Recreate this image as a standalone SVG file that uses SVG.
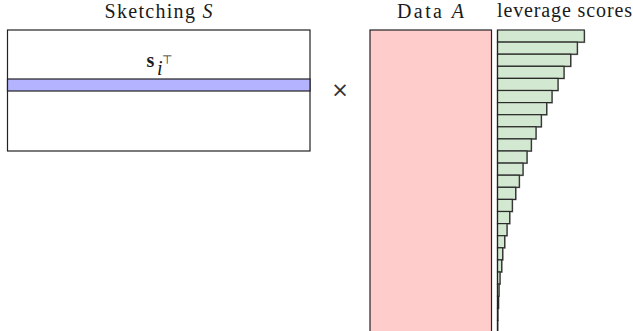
<svg xmlns="http://www.w3.org/2000/svg" width="633" height="331" viewBox="0 0 633 331">
<style>
  .t { font-family: 'Liberation Serif', 'DejaVu Serif', 'Times New Roman', serif; font-size: 20px; fill: #1a1a1a; }
  .it { font-style: italic; }
  .box { stroke: #222; stroke-width: 1.2; }
  .bar { fill: #d3e8d0; stroke: #2a2a2a; stroke-width: 1.2; }
  .sh { fill: #8a8a8a; opacity: 0.7; }
</style>
<rect width="633" height="331" fill="#ffffff"/>
<g id="sketching">
  <text class="t" font-family="Liberation Serif, serif" x="158.5" y="17.5" text-anchor="middle" textLength="108" lengthAdjust="spacing">Sketching <tspan class="it">S</tspan></text>
  <rect class="box" x="7.5" y="30" width="302.5" height="121" fill="#ffffff"/>
  <rect class="box" x="7.5" y="79" width="302.5" height="12" fill="#b3b3ff"/>
  <text class="t" font-family="Liberation Serif, serif" x="146.5" y="67" font-size="21" font-weight="bold">s</text>
  <text class="t it" font-family="Liberation Serif, serif" x="157" y="75" font-size="14">i</text>
  <text x="162" y="63.5" font-family="DejaVu Sans, sans-serif" font-size="12" fill="#1a1a1a">⊤</text>
</g>
<g id="times">
  <text x="340" y="97" text-anchor="middle" font-family="DejaVu Sans, sans-serif" font-size="21" fill="#333">×</text>
</g>
<g id="data">
  <text class="t" font-family="Liberation Serif, serif" x="430.5" y="17.5" text-anchor="middle" textLength="67" lengthAdjust="spacing">Data <tspan class="it">A</tspan></text>
  <rect class="box" x="370" y="30" width="121.5" height="310" fill="#ffcccc"/>
</g>
<g id="leverage">
  <text class="t" font-family="Liberation Serif, serif" x="497" y="16.5" textLength="135" lengthAdjust="spacing">leverage scores</text>
  <g id="bars">
    <rect class="sh" x="498.5" y="31" width="86.8" height="12.1"/><rect class="bar" x="497.5" y="30" width="86.8" height="12.1"/>
    <rect class="sh" x="498.5" y="43.1" width="79.8" height="12.1"/><rect class="bar" x="497.5" y="42.1" width="79.8" height="12.1"/>
    <rect class="sh" x="498.5" y="55.2" width="73.2" height="12.1"/><rect class="bar" x="497.5" y="54.2" width="73.2" height="12.1"/>
    <rect class="sh" x="498.5" y="67.3" width="66.5" height="12.1"/><rect class="bar" x="497.5" y="66.3" width="66.5" height="12.1"/>
    <rect class="sh" x="498.5" y="79.4" width="60.5" height="12.1"/><rect class="bar" x="497.5" y="78.4" width="60.5" height="12.1"/>
    <rect class="sh" x="498.5" y="91.5" width="54.5" height="12.1"/><rect class="bar" x="497.5" y="90.5" width="54.5" height="12.1"/>
    <rect class="sh" x="498.5" y="103.6" width="49.2" height="12.1"/><rect class="bar" x="497.5" y="102.6" width="49.2" height="12.1"/>
    <rect class="sh" x="498.5" y="115.7" width="43.8" height="12.1"/><rect class="bar" x="497.5" y="114.7" width="43.8" height="12.1"/>
    <rect class="sh" x="498.5" y="127.8" width="38.5" height="12.1"/><rect class="bar" x="497.5" y="126.8" width="38.5" height="12.1"/>
    <rect class="sh" x="498.5" y="139.9" width="33.8" height="12.1"/><rect class="bar" x="497.5" y="138.9" width="33.8" height="12.1"/>
    <rect class="sh" x="498.5" y="152" width="29.5" height="12.1"/><rect class="bar" x="497.5" y="151" width="29.5" height="12.1"/>
    <rect class="sh" x="498.5" y="164.1" width="25.5" height="12.1"/><rect class="bar" x="497.5" y="163.1" width="25.5" height="12.1"/>
    <rect class="sh" x="498.5" y="176.2" width="21.8" height="12.1"/><rect class="bar" x="497.5" y="175.2" width="21.8" height="12.1"/>
    <rect class="sh" x="498.5" y="188.3" width="18.2" height="12.1"/><rect class="bar" x="497.5" y="187.3" width="18.2" height="12.1"/>
    <rect class="sh" x="498.5" y="200.4" width="14.8" height="12.1"/><rect class="bar" x="497.5" y="199.4" width="14.8" height="12.1"/>
    <rect class="sh" x="498.5" y="212.5" width="12.2" height="12.1"/><rect class="bar" x="497.5" y="211.5" width="12.2" height="12.1"/>
    <rect class="sh" x="498.5" y="224.6" width="9.5" height="12.1"/><rect class="bar" x="497.5" y="223.6" width="9.5" height="12.1"/>
    <rect class="sh" x="498.5" y="236.7" width="7.2" height="12.1"/><rect class="bar" x="497.5" y="235.7" width="7.2" height="12.1"/>
    <rect class="sh" x="498.5" y="248.8" width="5.2" height="12.1"/><rect class="bar" x="497.5" y="247.8" width="5.2" height="12.1"/>
    <rect class="sh" x="498.5" y="260.9" width="4.2" height="12.1"/><rect class="bar" x="497.5" y="259.9" width="4.2" height="12.1"/>
    <rect class="sh" x="498.5" y="273" width="2.5" height="12.1"/><rect class="bar" x="497.5" y="272" width="2.5" height="12.1"/>
    <rect class="sh" x="498.5" y="285.1" width="1.5" height="12.1"/><rect class="bar" x="497.5" y="284.1" width="1.5" height="12.1"/>
    <rect class="sh" x="498.5" y="297.2" width="1" height="12.1"/><rect class="bar" x="497.5" y="296.2" width="1" height="12.1"/>
    <rect class="bar" x="497.5" y="308.3" width="0.5" height="12.1"/>
    <rect class="bar" x="497.5" y="320.4" width="0.3" height="12.1"/>
  </g>
  <line x1="497.5" y1="30" x2="497.5" y2="331" stroke="#222" stroke-width="1.2"/>
</g>
<g id="connectors"/>
</svg>
